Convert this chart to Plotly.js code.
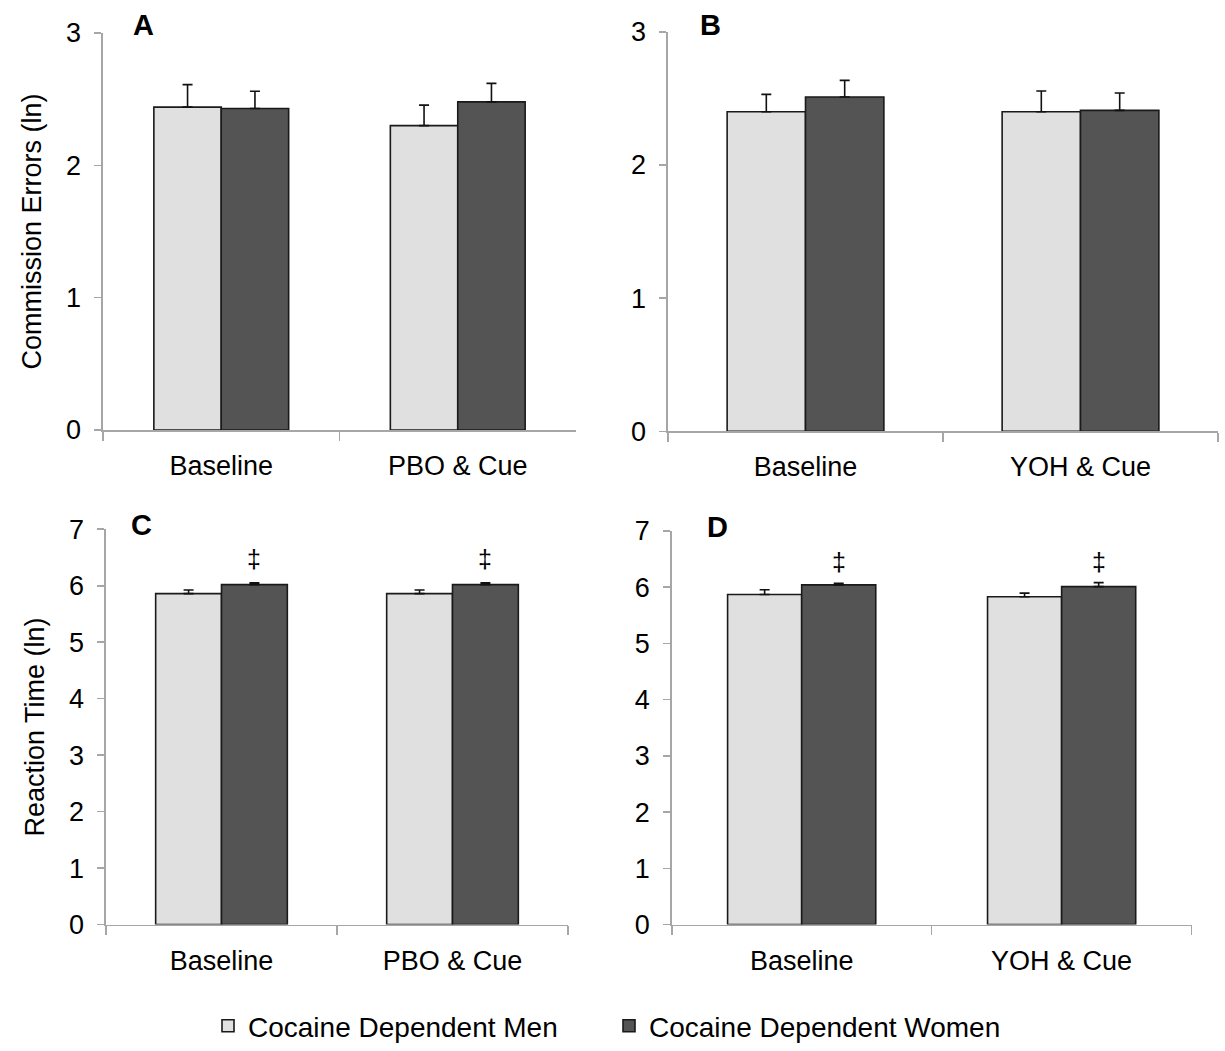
<!DOCTYPE html>
<html>
<head>
<meta charset="utf-8">
<script src="https://cdn.plot.ly/plotly-3.0.1.min.js"></script>
<style>html,body{margin:0;padding:0;background:#fff;}#chart{width:1225px;height:1051px;}</style>
</head>
<body>
<div id="chart"></div>
<script>
// ---- Data ----
const seriesNames = ['Cocaine Dependent Men', 'Cocaine Dependent Women'];
const categoriesAC = ['Baseline', 'PBO & Cue'];
const categoriesBD = ['Baseline', 'YOH & Cue'];

// Panel A: Commission Errors (ln), placebo
const menA = [2.44, 2.30];
const menA_se = [0.17, 0.155];
const womenA = [2.43, 2.48];
const womenA_se = [0.13, 0.14];

// Panel B: Commission Errors (ln), yohimbine
const menB = [2.40, 2.40];
const menB_se = [0.13, 0.155];
const womenB = [2.51, 2.41];
const womenB_se = [0.125, 0.13];

// Panel C: Reaction Time (ln), placebo
const menC = [5.86, 5.86];
const menC_se = [0.065, 0.065];
const womenC = [6.02, 6.02];
const womenC_se = [0.03, 0.03];

// Panel D: Reaction Time (ln), yohimbine
const menD = [5.87, 5.83];
const menD_se = [0.085, 0.065];
const womenD = [6.04, 6.01];
const womenD_se = [0.03, 0.07];

// significance markers over women bars (C and D)
const sigC = ['‡', '‡'];
const sigD = ['‡', '‡'];
const panelLetters = ['A', 'B', 'C', 'D'];
const yTitleTop = 'Commission Errors (ln)';
const yTitleBottom = 'Reaction Time (ln)';

// ---- Styling ----
const W = 1225, H = 1051;
const px = v => v / W;
const py = v => 1 - v / H;
const FONT = 'Liberation Sans, Arial, sans-serif';
const menColor = '#e0e0e0';
const womenColor = '#545454';
const axisGray = '#a6a6a6';
const BARGAP = 0.43;

function barTrace(cats, vals, se, name, color, xa, ya, showlegend) {
  return {
    type: 'bar', x: cats, y: vals, name: name,
    xaxis: xa, yaxis: ya, showlegend: showlegend, legendgroup: name,
    marker: {color: color, line: {color: '#1a1a1a', width: 1.6}},
    error_y: {type: 'data', array: se, arrayminus: se.map(() => 0), symmetric: false,
              color: '#111', thickness: 1.6, width: 5}
  };
}

const data = [
  barTrace(categoriesAC, menA, menA_se, seriesNames[0], menColor, 'x', 'y', true),
  barTrace(categoriesAC, womenA, womenA_se, seriesNames[1], womenColor, 'x', 'y', true),
  barTrace(categoriesBD, menB, menB_se, seriesNames[0], menColor, 'x2', 'y2', false),
  barTrace(categoriesBD, womenB, womenB_se, seriesNames[1], womenColor, 'x2', 'y2', false),
  barTrace(categoriesAC, menC, menC_se, seriesNames[0], menColor, 'x3', 'y3', false),
  barTrace(categoriesAC, womenC, womenC_se, seriesNames[1], womenColor, 'x3', 'y3', false),
  barTrace(categoriesBD, menD, menD_se, seriesNames[0], menColor, 'x4', 'y4', false),
  barTrace(categoriesBD, womenD, womenD_se, seriesNames[1], womenColor, 'x4', 'y4', false)
];

function xAxis(left, right, anchor) {
  return {
    domain: [px(left), px(right)], anchor: anchor, type: 'category',
    showline: true, linecolor: axisGray, linewidth: 1.6,
    ticks: 'outside', tickson: 'boundaries', ticklen: 9, tickcolor: axisGray, tickwidth: 1.6,
    showgrid: false, zeroline: false, ticklabelstandoff: 11,
    tickfont: {family: FONT, size: 27, color: '#000'}, fixedrange: true
  };
}
function yAxis(bottom, top, anchor, maxv, title) {
  const ax = {
    domain: [py(bottom), py(top)], anchor: anchor, range: [0, maxv],
    tickmode: 'linear', tick0: 0, dtick: 1,
    showline: true, linecolor: axisGray, linewidth: 1.6,
    ticks: 'outside', ticklen: 7, tickcolor: axisGray, tickwidth: 1.6,
    showgrid: false, zeroline: false, ticklabelstandoff: 8,
    tickfont: {family: FONT, size: 27, color: '#000'}, fixedrange: true
  };
  if (title) ax.title = {text: title, font: {family: FONT, size: 27, color: '#000'}, standoff: 16};
  return ax;
}

const annotations = [];
const letterPos = [[143, 25], [710, 25], [141, 529], [717, 531]];
panelLetters.forEach((t, i) => {
  annotations.push({xref: 'paper', yref: 'paper', x: px(letterPos[i][0]), y: py(letterPos[i][1]),
    text: '<b>' + t + '</b>', showarrow: false, xanchor: 'center', yanchor: 'middle',
    font: {family: FONT, size: 29, color: '#000'}});
});
const womenOffset = (1 - BARGAP) / 4;
sigC.forEach((s, i) => {
  annotations.push({xref: 'x3', yref: 'y3', x: i + womenOffset, y: 6.47, text: s, showarrow: false,
    xanchor: 'center', yanchor: 'middle', font: {family: FONT, size: 25, color: '#000'}});
});
sigD.forEach((s, i) => {
  annotations.push({xref: 'x4', yref: 'y4', x: i + womenOffset, y: 6.44, text: s, showarrow: false,
    xanchor: 'center', yanchor: 'middle', font: {family: FONT, size: 25, color: '#000'}});
});

const layout = {
  width: W, height: H,
  margin: {l: 0, r: 0, t: 0, b: 0},
  paper_bgcolor: '#fff', plot_bgcolor: '#fff',
  barmode: 'group', bargap: BARGAP, bargroupgap: 0,
  font: {family: FONT, size: 27, color: '#000'},
  xaxis: xAxis(103, 576, 'y'),
  yaxis: yAxis(433.3, 33.3, 'x', 3, yTitleTop),
  xaxis2: xAxis(668, 1218, 'y2'),
  yaxis2: yAxis(434.7, 32, 'x2', 3, null),
  xaxis3: xAxis(106, 568, 'y3'),
  yaxis3: yAxis(931.7, 533.3, 'x3', 7, yTitleBottom),
  xaxis4: xAxis(671.7, 1191.6, 'y4'),
  yaxis4: yAxis(931.7, 535, 'x4', 7, null),
  showlegend: true,
  legend: {orientation: 'h', x: px(208), xanchor: 'left', y: py(1034), yanchor: 'middle',
    entrywidth: 356, entrywidthmode: 'pixels',
    font: {family: FONT, size: 28, color: '#000'}, bgcolor: 'rgba(0,0,0,0)', itemclick: false, itemdoubleclick: false},
  annotations: annotations
};

Plotly.newPlot('chart', data, layout, {staticPlot: true, displayModeBar: false});
</script>
</body>
</html>
